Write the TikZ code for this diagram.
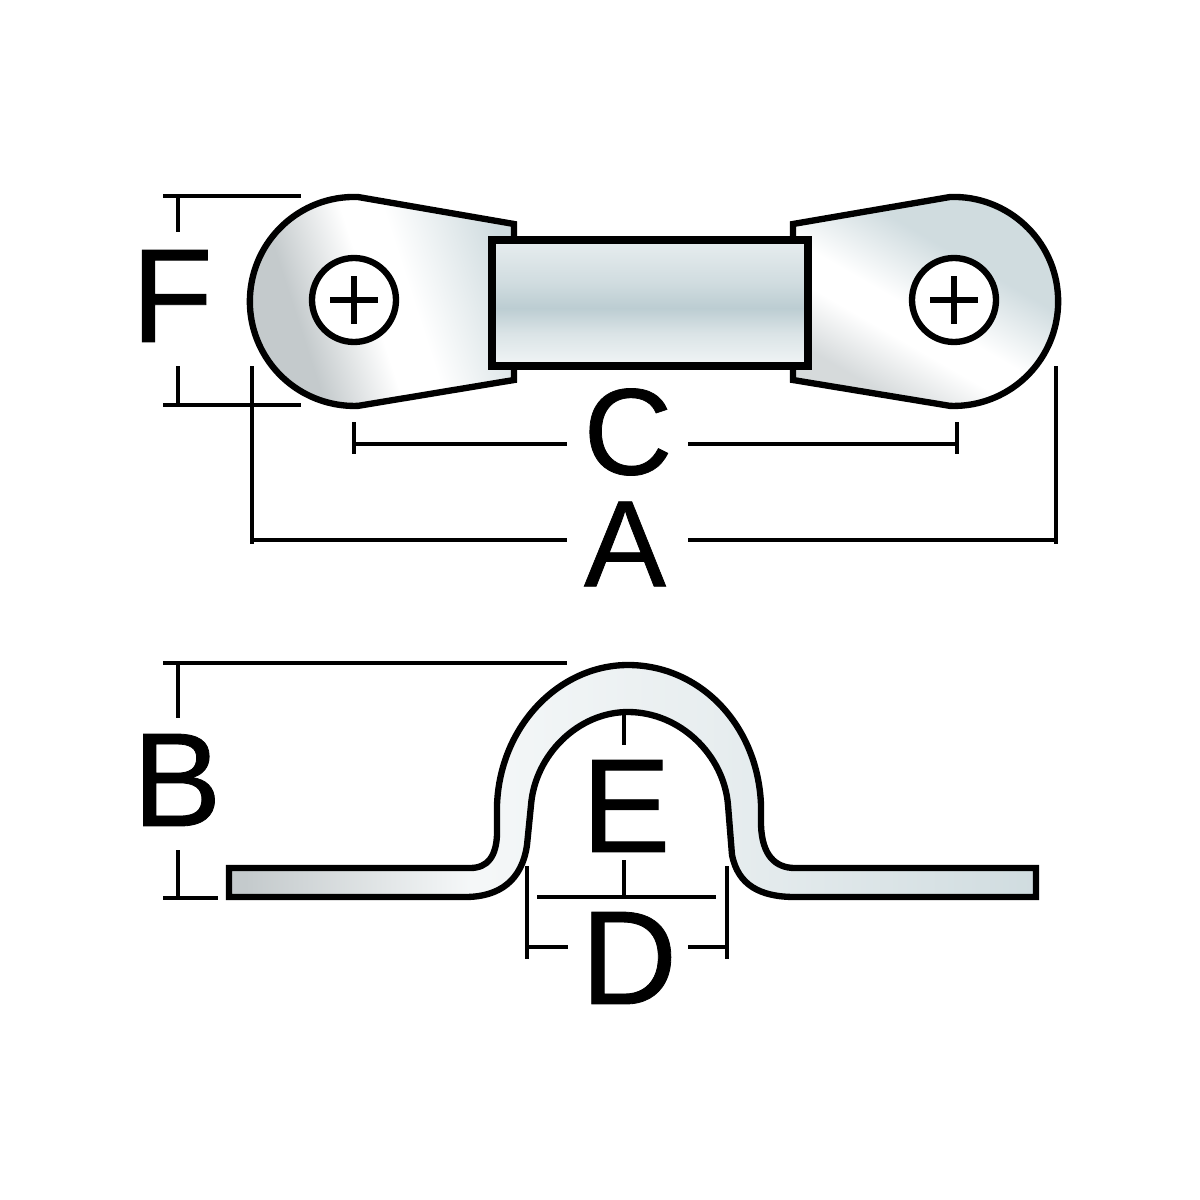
\documentclass[tikz,border=0pt]{standalone}
\usepackage{fontspec}
\setmainfont[FakeBold=0.6]{Liberation Sans}
\definecolor{shadegray}{HTML}{C4CACC}
\definecolor{shadeblue}{HTML}{BCCDD2}
\pgfdeclareverticalshading{stripshade}{100bp}{color(0bp)=(white); color(25bp)=(shadeblue!20); color(38bp)=(shadeblue!55); color(48bp)=(shadeblue); color(58bp)=(shadeblue!70); color(75bp)=(shadeblue!35); color(100bp)=(white)}
\pgfdeclarehorizontalshading{lugshade}{100bp}{color(0bp)=(shadegray); color(33bp)=(shadegray); color(48bp)=(white); color(56bp)=(white); color(76bp)=(shadeblue!70); color(100bp)=(shadeblue!70)}
\pgfdeclarehorizontalshading{lugshadeb}{100bp}{color(0bp)=(shadegray!70); color(28bp)=(shadegray!70); color(40bp)=(white); color(47bp)=(white); color(62bp)=(shadeblue!70); color(100bp)=(shadeblue!70)}
\pgfdeclarehorizontalshading{barshade}{100bp}{color(0bp)=(shadegray); color(26bp)=(shadegray); color(40bp)=(shadeblue!15); color(55bp)=(shadeblue!35); color(75bp)=(shadeblue!70); color(100bp)=(shadeblue!70)}
\tikzset{
	outline/.style={draw=black,line width=1.8pt,line join=miter},
	dimline/.style={draw=black,line width=1.05pt},
	letter/.style={inner sep=0pt,font=\fontsize{38}{38}\selectfont},
	smallletter/.style={inner sep=0pt,font=\fontsize{35}{35}\selectfont}
}
\begin{document}
\begin{tikzpicture}[x=0.01cm,y=-0.01cm]
	\useasboundingbox (0,0) rectangle (1200,1200);
	% Oesen
	\path[outline,shading=lugshade,shading angle=18] (514,240) -- (514,224) -- (358,197) arc[start angle=-88,end angle=-272,radius=104.5] -- (514,380) -- (514,366) -- cycle;
	\path[outline,shading=lugshadeb,shading angle=60] (793,240) -- (793,224) -- (950,197) arc[start angle=-92,end angle=92,radius=104.5] -- (793,380) -- (793,366) -- cycle;
	% Steg
	\path[outline,line width=2pt,shading=stripshade] (492,240) rectangle (808,366);
	% Schrauben
	\foreach \x in {354,954} {
		\draw[line width=1.8pt,fill=white] (\x,300) circle (42);
		\draw[line width=1.7pt] (\x-24,300) -- (\x+24,300);
		\draw[line width=1.7pt] (\x,276) -- (\x,324);
	}
	% Profil
	\path[outline,shading=barshade] (229,868) -- (470,868) .. controls (488,868) and (496,856) .. (497,835) -- (497,805)
		.. controls (500,725) and (560,665) .. (628,665) .. controls (700,665) and (758,725) .. (761,805) -- (761,825)
		.. controls (762,855) and (775,868) .. (795,868) -- (1036,868) -- (1036,897) -- (795,897)
		.. controls (760,897) and (738,885) .. (732,855) -- (728,805) .. controls (724,755) and (680,712) .. (628,712)
		.. controls (578,712) and (535,755) .. (531,805) -- (527,845) .. controls (522,880) and (500,897) .. (465,897)
		-- (229,897) -- cycle;
	% Masse F
	\draw[dimline] (163,196) -- (301,196);
	\draw[dimline] (163,405) -- (301,405);
	\draw[dimline] (178,196) -- (178,232);
	\draw[dimline] (178,366) -- (178,405);
	\node[letter] (labelF) at (172,296) {F};
	% Masse A
	\node[smallletter] (labelA) at (625,544) {A};
	\draw[dimline] (252,366) -- (252,544);
	\draw[dimline] (1056,366) -- (1056,544);
	\draw[dimline] (252,540) -- (567,540);
	\draw[dimline] (688,540) -- (1056,540);
	% Masse C
	\node[smallletter] (labelC) at (628,432) {C};
	\draw[dimline] (354,422) -- (354,454);
	\draw[dimline] (957,422) -- (957,454);
	\draw[dimline] (354,444) -- (567,444);
	\draw[dimline] (688,444) -- (957,444);
	% Masse B
	\node[letter] (labelB) at (177,780) {B};
	\draw[dimline] (163,663) -- (567,663);
	\draw[dimline] (163,898) -- (218,898);
	\draw[dimline] (178,663) -- (178,718);
	\draw[dimline] (178,850) -- (178,898);
	% Masse E
	\node[letter] (labelE) at (626,806) {E};
	\draw[dimline] (624,713) -- (624,745);
	\draw[dimline] (624,860) -- (624,897);
	\draw[dimline] (537,897) -- (716,897);
	% Masse D
	\node[letter] (labelD) at (629,958) {D};
	\draw[dimline] (527,866) -- (527,959);
	\draw[dimline] (727,866) -- (727,959);
	\draw[dimline] (527,947) -- (568,947);
	\draw[dimline] (688,947) -- (727,947);
\end{tikzpicture}
\end{document}
